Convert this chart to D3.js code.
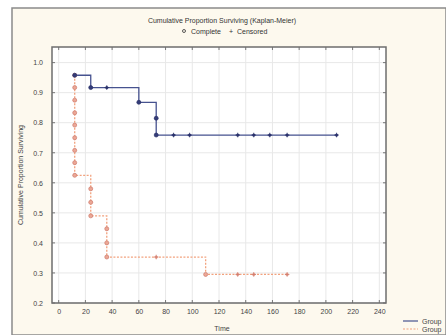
<!DOCTYPE html>
<html>
<head>
<meta charset="utf-8">
<script src="https://cdn.jsdelivr.net/npm/d3@7"></script>
<style>
  body { margin: 0; background: #fff; }
  svg { display: block; font-family: "Liberation Sans", Arial, sans-serif; }
</style>
</head>
<body>
<svg id="chart" width="446" height="335"></svg>
<script>
// Group 1 (blue) - time, survival, censored flag
const g1Time = [12, 24, 36, 60, 73, 73, 86, 98, 134, 146, 158, 171, 208];
const g1Surv = [0.958, 0.917, 0.917, 0.868, 0.815, 0.759, 0.759, 0.759, 0.759, 0.759, 0.759, 0.759, 0.759];
const g1Cens = [0, 0, 1, 0, 0, 0, 1, 1, 1, 1, 1, 1, 1];

// Group 2 (orange)
const g2Time = [12, 12, 12, 12, 12, 12, 12, 12, 12, 24, 24, 24, 36, 36, 36, 73, 110, 134, 146, 171];
const g2Surv = [0.958, 0.917, 0.875, 0.833, 0.792, 0.75, 0.708, 0.667, 0.625, 0.58, 0.535, 0.49, 0.447, 0.40, 0.353, 0.353, 0.295, 0.295, 0.295, 0.295];
const g2Cens = [0, 0, 0, 0, 0, 0, 0, 0, 0, 0, 0, 0, 0, 0, 0, 1, 0, 1, 1, 1];

const xTicks = d3.range(0, 241, 20);
const yTicks = [0.2, 0.3, 0.4, 0.5, 0.6, 0.7, 0.8, 0.9, 1.0];

const title = "Cumulative Proportion Surviving (Kaplan-Meier)";
const legendTop = ["Complete", "Censored"];
const groupLabels = ["Group", "Group"];

const svg = d3.select('#chart');
const W = 446, H = 335;

// outer panel
svg.append('rect').attr('x', 12).attr('y', 8).attr('width', W - 12).attr('height', H - 8)
  .attr('fill', '#fdf9ee').attr('stroke', '#8a8a8a').attr('stroke-width', 1.5);

const pLeft = 52, pRight = 386, pTop = 47, pBottom = 303;
const x = d3.scaleLinear().domain([-5, 245]).range([pLeft, pRight]);
const y = d3.scaleLinear().domain([0.2, 1.052]).range([pBottom, pTop]);

svg.append('rect').attr('x', pLeft).attr('y', pTop).attr('width', pRight - pLeft).attr('height', pBottom - pTop)
  .attr('fill', '#fff');

// grid
const grid = svg.append('g').attr('stroke', '#e8e8e8').attr('stroke-width', 1);
xTicks.forEach(t => grid.append('line').attr('x1', x(t)).attr('x2', x(t)).attr('y1', pTop).attr('y2', pBottom));
yTicks.forEach(t => grid.append('line').attr('y1', y(t)).attr('y2', y(t)).attr('x1', pLeft).attr('x2', pRight));

// inward ticks on all sides
const tk = svg.append('g').attr('stroke', '#777').attr('stroke-width', 1);
xTicks.forEach(t => {
  tk.append('line').attr('x1', x(t)).attr('x2', x(t)).attr('y1', pBottom).attr('y2', pBottom - 3);
  tk.append('line').attr('x1', x(t)).attr('x2', x(t)).attr('y1', pTop).attr('y2', pTop + 3);
});
yTicks.forEach(t => {
  tk.append('line').attr('y1', y(t)).attr('y2', y(t)).attr('x1', pLeft).attr('x2', pLeft + 3);
  tk.append('line').attr('y1', y(t)).attr('y2', y(t)).attr('x1', pRight).attr('x2', pRight - 3);
});

// axis labels
const xAxis = d3.axisBottom(x).tickValues(xTicks).tickSize(0).tickPadding(6).tickFormat(d3.format('d'));
const gx = svg.append('g').attr('transform', `translate(0,${pBottom})`).call(xAxis);
const yAxis = d3.axisLeft(y).tickValues(yTicks).tickSize(0).tickPadding(9).tickFormat(d3.format('.1f'));
const gy = svg.append('g').attr('transform', `translate(${pLeft},0)`).call(yAxis);
[gx, gy].forEach(g => {
  g.select('.domain').remove();
  g.selectAll('text').attr('font-size', 7).attr('fill', '#444').attr('font-family', '"Liberation Sans", Arial, sans-serif');
});

// frame
svg.append('rect').attr('x', pLeft).attr('y', pTop).attr('width', pRight - pLeft).attr('height', pBottom - pTop)
  .attr('fill', 'none').attr('stroke', '#6e6e6e').attr('stroke-width', 1.5);

// step path helper
function stepPoints(ts, ss) {
  const pts = [[ts[0], ss[0]]];
  for (let i = 1; i < ts.length; i++) {
    if (ss[i] !== ss[i - 1]) {
      pts.push([ts[i], ss[i - 1]]);
      pts.push([ts[i], ss[i]]);
    } else {
      pts.push([ts[i], ss[i]]);
    }
  }
  return pts;
}
const line = d3.line().x(d => x(d[0])).y(d => y(d[1]));

// group 2 (orange, dashed)
svg.append('path').datum(stepPoints(g2Time, g2Surv))
  .attr('d', line).attr('fill', 'none').attr('stroke', '#f2a27e').attr('stroke-width', 1.3)
  .attr('stroke-dasharray', '2,1.5');
// group 1 (blue, solid)
svg.append('path').datum(stepPoints(g1Time, g1Surv))
  .attr('d', line).attr('fill', 'none').attr('stroke', '#46528f').attr('stroke-width', 1.3);

function markers(ts, ss, cs, fill, stroke) {
  const g = svg.append('g');
  ts.forEach((t, i) => {
    const cx = x(t), cy = y(ss[i]);
    if (cs[i]) {
      g.append('circle').attr('cx', cx).attr('cy', cy).attr('r', 1.6).attr('fill', fill);
      g.append('path').attr('d', `M${cx - 2.3},${cy}H${cx + 2.3}M${cx},${cy - 2.3}V${cy + 2.3}`)
        .attr('stroke', stroke).attr('stroke-width', 0.8);
    } else {
      g.append('circle').attr('cx', cx).attr('cy', cy).attr('r', 2)
        .attr('fill', fill).attr('stroke', stroke).attr('stroke-width', 0.7);
    }
  });
}
markers(g2Time, g2Surv, g2Cens, '#eba796', '#cf7a6c');
markers(g1Time, g1Surv, g1Cens, '#343c78', '#2a3168');

// titles
svg.append('text').attr('x', 222).attr('y', 23).attr('text-anchor', 'middle')
  .attr('font-size', 7).attr('fill', '#333').text(title);
const lg = svg.append('g').attr('font-size', 7).attr('fill', '#333');
lg.append('circle').attr('cx', 184).attr('cy', 31).attr('r', 1.5).attr('fill', 'none').attr('stroke', '#333').attr('stroke-width', 0.8);
lg.append('text').attr('x', 191).attr('y', 33.5).text(legendTop[0]);
lg.append('text').attr('x', 229).attr('y', 33.5).text('+');
lg.append('text').attr('x', 237).attr('y', 33.5).text(legendTop[1]);

svg.append('text').attr('transform', `translate(23,${(pTop + pBottom) / 2}) rotate(-90)`)
  .attr('text-anchor', 'middle').attr('font-size', 7).attr('fill', '#444').text('Cumulative Proportion Surviving');
svg.append('text').attr('x', 222).attr('y', 331).attr('text-anchor', 'middle')
  .attr('font-size', 7).attr('fill', '#444').text('Time');

// group legend
const gl = svg.append('g').attr('font-size', 7).attr('fill', '#444');
gl.append('line').attr('x1', 403).attr('x2', 418).attr('y1', 321).attr('y2', 321).attr('stroke', '#46528f').attr('stroke-width', 1.2);
gl.append('text').attr('x', 422).attr('y', 323.5).text(groupLabels[0]);
gl.append('line').attr('x1', 403).attr('x2', 418).attr('y1', 329).attr('y2', 329).attr('stroke', '#f2a27e').attr('stroke-width', 1.2).attr('stroke-dasharray', '2,1.5');
gl.append('text').attr('x', 422).attr('y', 331.5).text(groupLabels[1]);
</script>
</body>
</html>
